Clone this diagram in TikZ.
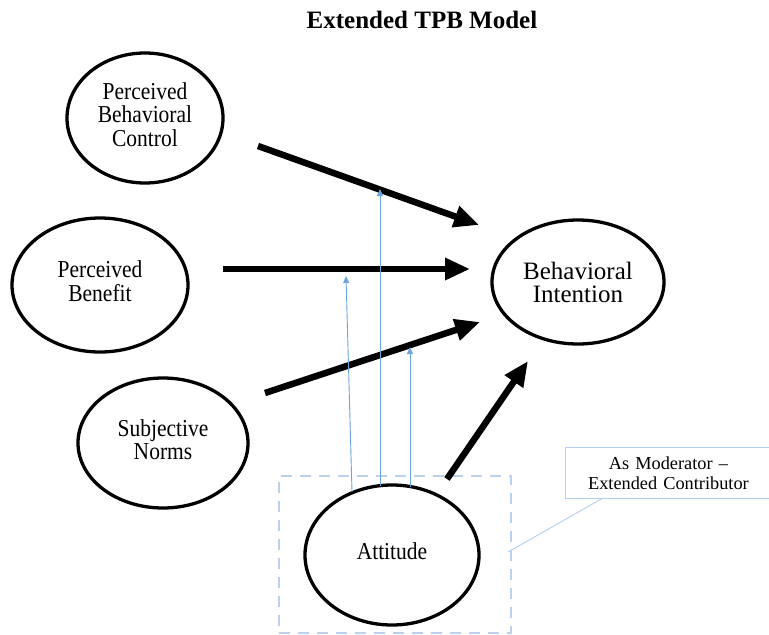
\documentclass[tikz,border=0pt]{standalone}
\usepackage{fontspec}
\setmainfont{Liberation Serif}
\usetikzlibrary{shapes.geometric,arrows.meta}
\definecolor{dashblue}{RGB}{186,210,238}
\definecolor{thinblue}{RGB}{110,165,222}
\definecolor{callblue}{RGB}{180,208,238}
\newcommand{\tallbox}[1]{\scalebox{1}[1.13]{\begin{tabular}{@{}c@{}}#1\end{tabular}}}
\tikzset{
  oval/.style={ellipse, draw=black, line width=3.3pt, inner sep=0pt, align=center, font=\fontsize{21.5}{20.5}\selectfont},
  bigarrow/.style={line width=6.5pt, -{Triangle[length=25pt,width=21pt]}},
  modarrow/.style={draw=thinblue, line width=0.9pt, -{Triangle[length=7pt,width=6pt]}},
}
\begin{document}
\begin{tikzpicture}[x=1pt,y=-1pt]
\useasboundingbox (0,0) rectangle (769,635);
\fill[white] (0,0) rectangle (769,635);
% title
\node[font=\bfseries\fontsize{25}{27}\selectfont] (title) at (422,20) {Extended TPB Model};
% ellipses
\node[oval, minimum width=156pt, minimum height=130pt] (pbc) at (145,118) {\tallbox{Perceived\\Behavioral\\Control}};
\node[oval, minimum width=176pt, minimum height=134pt] (pb) at (100,285) {\tallbox{Perceived\\Benefit}};
\node[oval, minimum width=170pt, minimum height=130pt] (sn) at (163,443) {\tallbox{Subjective\\Norms}};
\node[oval, minimum width=172pt, minimum height=124pt, font=\fontsize{25}{23}\selectfont] (bi) at (578,282) {Behavioral\\Intention};
\node[oval, minimum width=174pt, minimum height=140pt] (att) at (392,555) {\tallbox{Attitude}};
% dashed moderator box
\node[draw=dashblue, line width=2.6pt, dash pattern=on 11pt off 8pt, minimum width=232pt, minimum height=157pt, inner sep=0pt] (modbox) at (395,554.5) {};
% callout
\node[draw=callblue, line width=0.9pt, minimum width=212pt, minimum height=51pt, inner sep=0pt, anchor=north west, align=center, font=\fontsize{18.3}{20}\selectfont, text width=212pt] (call) at (565,447) {\hspace*{-6pt}As Moderator --\\\hspace*{-6pt}Extended Contributor};
\coordinate (callfoot) at (603,498);
\coordinate (boxpt) at (508,552);
\draw[draw=callblue, line width=0.9pt] (callfoot) -- (boxpt);
% thick arrows
\coordinate (s1) at (258,146); \coordinate (e1) at (479,225);
\coordinate (s2) at (223,269); \coordinate (e2) at (470,269);
\coordinate (s3) at (265,393); \coordinate (e3) at (480,322);
\coordinate (s4) at (447,479); \coordinate (e4) at (528,361);
\draw[bigarrow] (s1) -- (e1);
\draw[bigarrow] (s2) -- (e2);
\draw[bigarrow] (s3) -- (e3);
\draw[bigarrow] (s4) -- (e4);
% moderator arrows
\coordinate (m1s) at (352,492); \coordinate (m1e) at (346,276);
\coordinate (m2s) at (380,486); \coordinate (m2e) at (380,189);
\coordinate (m3s) at (410,487); \coordinate (m3e) at (410,347);
\draw[modarrow] (m1s) -- (m1e);
\draw[modarrow] (m2s) -- (m2e);
\draw[modarrow] (m3s) -- (m3e);
\end{tikzpicture}
\end{document}
